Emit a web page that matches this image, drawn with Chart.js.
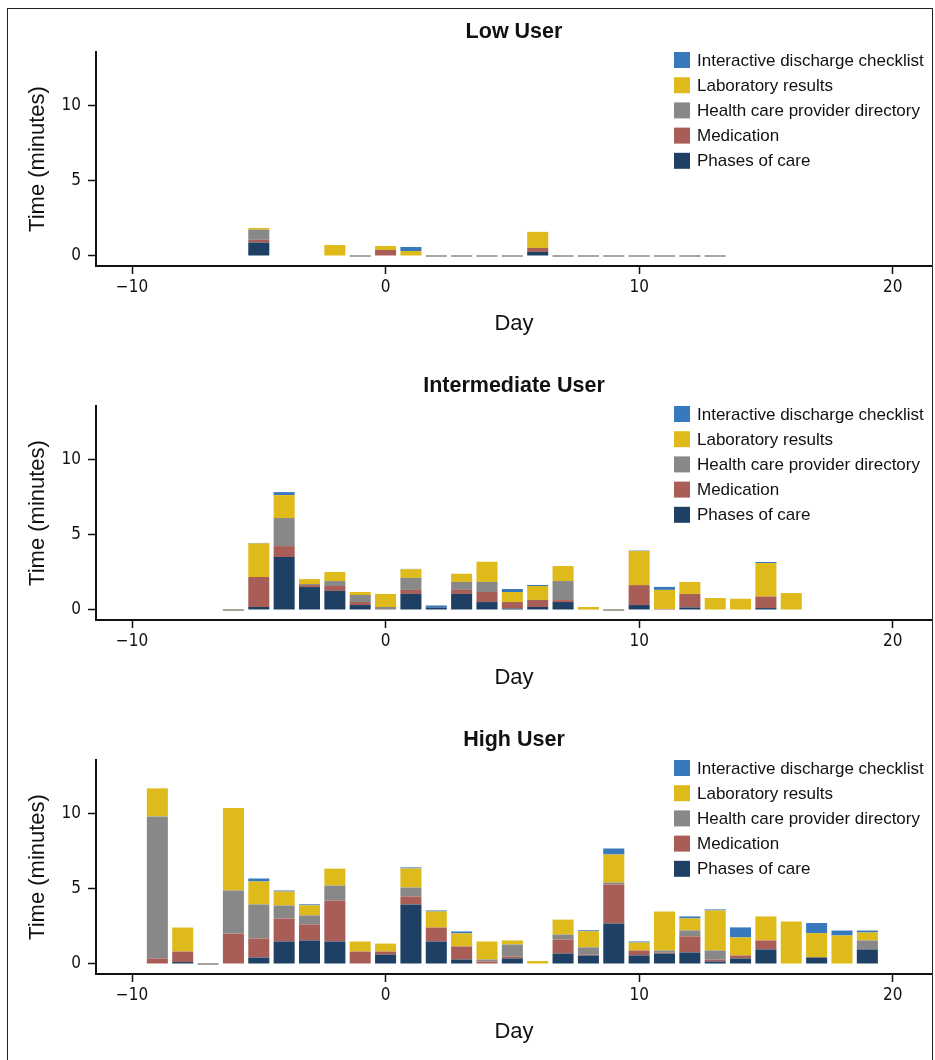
<!DOCTYPE html>
<html>
<head>
<meta charset="utf-8">
<script src="https://cdn.jsdelivr.net/npm/chart.js@4.4.0/dist/chart.umd.min.js"></script>
<style>
  html, body { margin: 0; padding: 0; background: #fff; overflow: hidden; }
  #page { position: relative; width: 935px; height: 1060px; }
  canvas { position: absolute; left: 0; }
  #frame {
    position: absolute; left: 7px; top: 8px; width: 926px; height: 1060px;
    box-sizing: border-box; border: 1.5px solid #222; border-bottom: none;
    pointer-events: none;
  }
</style>
</head>
<body>
<div id="page">
  <canvas id="low" width="935" height="354" style="top:0"></canvas>
  <canvas id="intermediate" width="935" height="354" style="top:354px"></canvas>
  <canvas id="high" width="935" height="354" style="top:708px"></canvas>
  <div id="frame"></div>
</div>
<script>
// Time spent per app module, by day relative to surgery

const seriesLabels = ['Phases of care', 'Medication', 'Health care provider directory', 'Laboratory results', 'Interactive discharge checklist'];
const seriesColors = ['#1e4064', '#a85e57', '#888888', '#debb1b', '#3878bd'];

const xTicks = [-10, 0, 10, 20];
const yTicks = [0, 5, 10];

// Low user
const lowDays = [-5, -2, 0, 1, 6];
const lowPhases = [0.9, 0, 0, 0, 0.27];
const lowMedication = [0.18, 0, 0.4, 0, 0.27];
const lowDirectory = [0.67, 0, 0, 0, 0];
const lowLab = [0.12, 0.73, 0.27, 0.33, 1.07];
const lowChecklist = [0, 0, 0, 0.27, 0];
const lowZeroDays = [-1, 2, 3, 4, 5, 7, 8, 9, 10, 11, 12, 13];

// Intermediate user
const midDays = [-5, -4, -3, -2, -1, 0, 1, 2, 3, 4, 5, 6, 7, 8, 10, 11, 12, 13, 14, 15, 16];
const midPhases = [0.2, 3.53, 1.53, 1.27, 0.33, 0, 1.07, 0.17, 1.07, 0.53, 0.1, 0.2, 0.53, 0, 0.33, 0, 0.17, 0, 0, 0.13, 0];
const midMedication = [2.0, 0.73, 0.13, 0.33, 0.2, 0, 0.27, 0, 0.27, 0.67, 0.43, 0.47, 0.13, 0.03, 1.33, 0.07, 0.9, 0, 0, 0.77, 0];
const midDirectory = [0, 1.87, 0.07, 0.33, 0.47, 0.2, 0.8, 0, 0.53, 0.67, 0, 0, 1.27, 0, 0, 0, 0, 0, 0, 0, 0];
const midLab = [2.24, 1.53, 0.33, 0.6, 0.2, 0.87, 0.58, 0, 0.55, 1.35, 0.67, 0.93, 1.0, 0.17, 2.27, 1.27, 0.8, 0.8, 0.75, 2.23, 1.13];
const midChecklist = [0.03, 0.2, 0, 0, 0, 0, 0.02, 0.13, 0, 0, 0.2, 0.07, 0, 0, 0.03, 0.2, 0, 0, 0, 0.07, 0];
const midZeroDays = [-6, 9];

// High user
const highDays = [-9, -8, -6, -5, -4, -3, -2, -1, 0, 1, 2, 3, 4, 5, 6, 7, 8, 9, 10, 11, 12, 13, 14, 15, 16, 17, 18, 19];
const highPhases = [0, 0.13, 0, 0.43, 1.5, 1.57, 1.5, 0, 0.63, 3.97, 1.5, 0.3, 0, 0.37, 0, 0.7, 0.57, 2.7, 0.57, 0.7, 0.77, 0.17, 0.37, 0.97, 0, 0.43, 0, 0.97];
const highMedication = [0.37, 0.7, 2.03, 1.27, 1.53, 1.07, 2.73, 0.83, 0.2, 0.53, 0.93, 0.87, 0.17, 0.13, 0, 0.93, 0.07, 2.6, 0.33, 0.07, 1.07, 0.13, 0.2, 0.6, 0, 0.03, 0, 0];
const highDirectory = [9.47, 0, 2.87, 2.27, 0.87, 0.6, 1.0, 0, 0, 0.6, 0, 0, 0.13, 0.8, 0, 0.33, 0.47, 0.13, 0, 0.13, 0.4, 0.6, 0, 0, 0, 0, 0, 0.6];
const highLab = [1.87, 1.6, 5.5, 1.53, 0.93, 0.67, 1.13, 0.67, 0.53, 1.27, 1.07, 0.87, 1.2, 0.27, 0.2, 1.0, 1.07, 1.87, 0.53, 2.6, 0.8, 2.67, 1.2, 1.6, 2.83, 1.6, 1.9, 0.53];
const highChecklist = [0, 0, 0, 0.2, 0.07, 0.07, 0, 0, 0, 0.07, 0.07, 0.13, 0, 0, 0, 0, 0.07, 0.4, 0.07, 0, 0.13, 0.07, 0.67, 0, 0, 0.67, 0.33, 0.13];
const highZeroDays = [-7];

const textColor = '#111';
const axisFont = { family: "'Liberation Sans Narrow', 'DejaVu Sans Condensed', sans-serif", size: 17 };
const titleFont = { family: "'Liberation Sans', Arial, sans-serif", size: 22 };

// Panel title, centred over the plot area
const panelTitle = {
  id: 'panelTitle',
  afterDraw(chart, args, opts) {
    const { ctx, chartArea } = chart;
    ctx.save();
    ctx.font = 'bold 21.5px "Liberation Sans", Arial, sans-serif';
    ctx.fillStyle = textColor;
    ctx.textAlign = 'center';
    ctx.textBaseline = 'middle';
    ctx.fillText(opts.text, (chartArea.left + chartArea.right) / 2, 32);
    ctx.restore();
  }
};

// Legend inside the plot, top right, top series first
const sideLegend = {
  id: 'sideLegend',
  afterDraw(chart) {
    const { ctx, chartArea } = chart;
    const items = chart.data.datasets.slice().reverse();
    ctx.save();
    ctx.font = '17px "Liberation Sans", Arial, sans-serif';
    ctx.textBaseline = 'middle';
    items.forEach((ds, i) => {
      const y = chartArea.top + 8 + i * 25.2;
      ctx.fillStyle = ds.backgroundColor;
      ctx.fillRect(chartArea.left + 578, y - 8, 16, 16);
      ctx.fillStyle = textColor;
      ctx.fillText(ds.label, chartArea.left + 601, y + 1);
    });
    ctx.restore();
  }
};

// Days with a logged visit but no time: thin line on the baseline
const zeroMarks = {
  id: 'zeroMarks',
  afterDatasetsDraw(chart, args, opts) {
    const { ctx, scales } = chart;
    const bar = chart.getDatasetMeta(0).data[0];
    const half = bar ? bar.width / 2 : 10;
    const y0 = scales.y.getPixelForValue(0);
    ctx.save();
    ctx.strokeStyle = '#8a8a7e';
    ctx.lineWidth = 1.5;
    opts.days.forEach((d) => {
      const x = scales.x.getPixelForValue(d);
      ctx.beginPath();
      ctx.moveTo(x - half, y0);
      ctx.lineTo(x + half, y0);
      ctx.stroke();
    });
    ctx.restore();
  }
};

function buildDatasets(days, series) {
  return series.map((values, i) => ({
    label: seriesLabels[i],
    data: days.map((d, j) => ({ x: d, y: values[j] })),
    backgroundColor: seriesColors[i],
    categoryPercentage: 1,
    barPercentage: 0.83,
  }));
}

function createPanel(canvasId, title, days, series, zeroDays) {
  const ctx = document.getElementById(canvasId);
  return new Chart(ctx, {
    type: 'bar',
    data: { datasets: buildDatasets(days, series) },
    options: {
      responsive: false,
      animation: false,
      layout: { padding: { top: 52, right: 3, left: 0, bottom: 0 } },
      scales: {
        x: {
          type: 'linear',
          stacked: true,
          offset: false,
          min: -11.42,
          max: 21.55,
          afterBuildTicks: (axis) => { axis.ticks = xTicks.map((v) => ({ value: v })); },
          afterFit: (axis) => { axis.height = 88; },
          grid: { offset: false, drawOnChartArea: false, tickLength: 8, tickColor: textColor, tickWidth: 1.5 },
          border: { color: textColor, width: 2 },
          ticks: {
            padding: 3,
            color: textColor,
            font: axisFont,
            maxRotation: 0,
            callback: (v) => String(v).replace('-', '\u2212'),
          },
          title: { display: true, text: 'Day', color: textColor, font: titleFont, padding: { top: 0, bottom: 17 } },
        },
        y: {
          stacked: true,
          min: -0.667,
          max: 13.6,
          afterBuildTicks: (axis) => { axis.ticks = yTicks.map((v) => ({ value: v })); },
          afterFit: (axis) => { axis.width = 96; },
          grid: { drawOnChartArea: false, tickLength: 8, tickColor: textColor, tickWidth: 1.5 },
          border: { color: textColor, width: 2 },
          ticks: { padding: 7, color: textColor, font: axisFont },
          title: { display: true, text: 'Time (minutes)', color: textColor, font: titleFont, padding: { top: 25, bottom: 0 } },
        },
      },
      plugins: {
        legend: { display: false },
        tooltip: { enabled: false },
        panelTitle: { text: title },
        zeroMarks: { days: zeroDays },
      },
    },
    plugins: [panelTitle, sideLegend, zeroMarks],
  });
}

createPanel('low', 'Low User', lowDays,
  [lowPhases, lowMedication, lowDirectory, lowLab, lowChecklist], lowZeroDays);
createPanel('intermediate', 'Intermediate User', midDays,
  [midPhases, midMedication, midDirectory, midLab, midChecklist], midZeroDays);
createPanel('high', 'High User', highDays,
  [highPhases, highMedication, highDirectory, highLab, highChecklist], highZeroDays);
</script>
</body>
</html>
